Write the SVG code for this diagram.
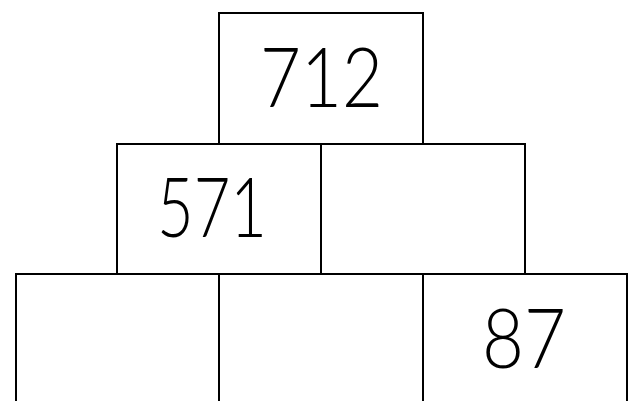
<svg xmlns="http://www.w3.org/2000/svg" width="630" height="401" viewBox="0 0 630 401">
<style>
.box{fill:#fff;stroke:#000;stroke-width:2}
.num{font-family:Lato,"Liberation Sans",sans-serif;font-weight:300;font-size:83px;fill:#000}
</style>
<rect width="630" height="401" fill="#fff"/>
<g id="top"><rect class="box" x="219" y="13" width="204" height="131"/><text class="num" x="260" y="107" textLength="123" lengthAdjust="spacingAndGlyphs">712</text></g>
<g id="mid-left"><rect class="box" x="117" y="144" width="204" height="130"/><text class="num" x="157" y="237" textLength="110" lengthAdjust="spacingAndGlyphs">571</text></g>
<g id="mid-right"><rect class="box" x="321" y="144" width="204" height="130"/></g>
<g id="bot-left"><rect class="box" x="16" y="274" width="203" height="140"/></g>
<g id="bot-mid"><rect class="box" x="219" y="274" width="204" height="140"/></g>
<g id="bot-right"><rect class="box" x="423" y="274" width="204" height="140"/><text class="num" x="482" y="368" textLength="84" lengthAdjust="spacingAndGlyphs">87</text></g>
<g id="connectors"></g>
</svg>
